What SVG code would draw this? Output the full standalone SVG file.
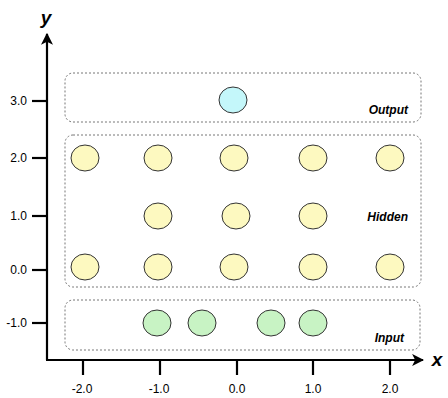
<svg xmlns="http://www.w3.org/2000/svg" width="448" height="398" viewBox="0 0 448 398">
<style>
.box{fill:none;stroke:#777;stroke-width:1;stroke-dasharray:2 2}
.ax{stroke:#000;stroke-width:2.2;fill:none}
.tk{stroke:#000;stroke-width:2.2}
.tl{font-family:"Liberation Sans",Arial,sans-serif;font-size:12px;fill:#000}
.gl{font-family:"Liberation Sans",Arial,sans-serif;font-size:12px;font-weight:bold;font-style:italic;fill:#000;text-anchor:end}
.al{font-family:"Liberation Sans",Arial,sans-serif;font-size:19px;font-weight:bold;font-style:italic;fill:#000;text-anchor:middle}
.n{stroke:#333;stroke-width:1}
.o{fill:#c4f7fa}
.h{fill:#fdf9c0}
.i{fill:#c8f3c4}
</style>
<defs>
<marker id="arr" viewBox="0 0 10 10" refX="9" refY="5" markerWidth="5.5" markerHeight="5.5" orient="auto" markerUnits="strokeWidth">
<path d="M0,0 L10,5 L0,10 L2.5,5 Z" fill="#000"/>
</marker>
</defs>
<g id="axes">
<path class="ax" d="M47,360 L47,34" marker-end="url(#arr)"/>
<path class="ax" d="M46,360 L423,360" marker-end="url(#arr)"/>
<line class="tk" x1="32" y1="101" x2="47" y2="101"/>
<line class="tk" x1="32" y1="158" x2="47" y2="158"/>
<line class="tk" x1="32" y1="216" x2="47" y2="216"/>
<line class="tk" x1="32" y1="270" x2="47" y2="270"/>
<line class="tk" x1="32" y1="323" x2="47" y2="323"/>
<line class="tk" x1="83" y1="360" x2="83" y2="375"/>
<line class="tk" x1="160" y1="360" x2="160" y2="375"/>
<line class="tk" x1="237" y1="360" x2="237" y2="375"/>
<line class="tk" x1="313" y1="360" x2="313" y2="375"/>
<line class="tk" x1="390" y1="360" x2="390" y2="375"/>
<text class="tl" x="27" y="105" text-anchor="end">3.0</text>
<text class="tl" x="27" y="162" text-anchor="end">2.0</text>
<text class="tl" x="27" y="220" text-anchor="end">1.0</text>
<text class="tl" x="27" y="274" text-anchor="end">0.0</text>
<text class="tl" x="27" y="327" text-anchor="end">-1.0</text>
<text class="tl" x="82" y="393" text-anchor="middle">-2.0</text>
<text class="tl" x="159" y="393" text-anchor="middle">-1.0</text>
<text class="tl" x="237" y="393" text-anchor="middle">0.0</text>
<text class="tl" x="313" y="393" text-anchor="middle">1.0</text>
<text class="tl" x="390" y="393" text-anchor="middle">2.0</text>
<text class="al" x="46" y="24">y</text>
<text class="al" x="437" y="366">x</text>
</g>
<g id="output-layer">
<rect class="box" x="65" y="73" width="356" height="49" rx="8"/>
<text class="gl" x="408" y="114">Output</text>
<ellipse class="n o" cx="233" cy="100" rx="14" ry="13"/>
</g>
<g id="hidden-layer">
<rect class="box" x="65" y="135" width="356" height="152" rx="8"/>
<text class="gl" x="408" y="221">Hidden</text>
<ellipse class="n h" cx="85" cy="158" rx="14" ry="13"/>
<ellipse class="n h" cx="158" cy="158" rx="14" ry="13"/>
<ellipse class="n h" cx="234" cy="158" rx="14" ry="13"/>
<ellipse class="n h" cx="313" cy="158" rx="14" ry="13"/>
<ellipse class="n h" cx="390" cy="158" rx="14" ry="13"/>
<ellipse class="n h" cx="158" cy="216" rx="14" ry="13"/>
<ellipse class="n h" cx="236" cy="216" rx="14" ry="13"/>
<ellipse class="n h" cx="313" cy="216" rx="14" ry="13"/>
<ellipse class="n h" cx="85" cy="267" rx="14" ry="13"/>
<ellipse class="n h" cx="158" cy="267" rx="14" ry="13"/>
<ellipse class="n h" cx="234" cy="267" rx="14" ry="13"/>
<ellipse class="n h" cx="313" cy="267" rx="14" ry="13"/>
<ellipse class="n h" cx="390" cy="267" rx="14" ry="13"/>
</g>
<g id="input-layer">
<rect class="box" x="65" y="300" width="355" height="50" rx="8"/>
<text class="gl" x="404" y="342">Input</text>
<ellipse class="n i" cx="157" cy="323" rx="14" ry="13"/>
<ellipse class="n i" cx="202" cy="323" rx="14" ry="13"/>
<ellipse class="n i" cx="271" cy="323" rx="14" ry="13"/>
<ellipse class="n i" cx="313" cy="323" rx="14" ry="13"/>
</g>
</svg>
